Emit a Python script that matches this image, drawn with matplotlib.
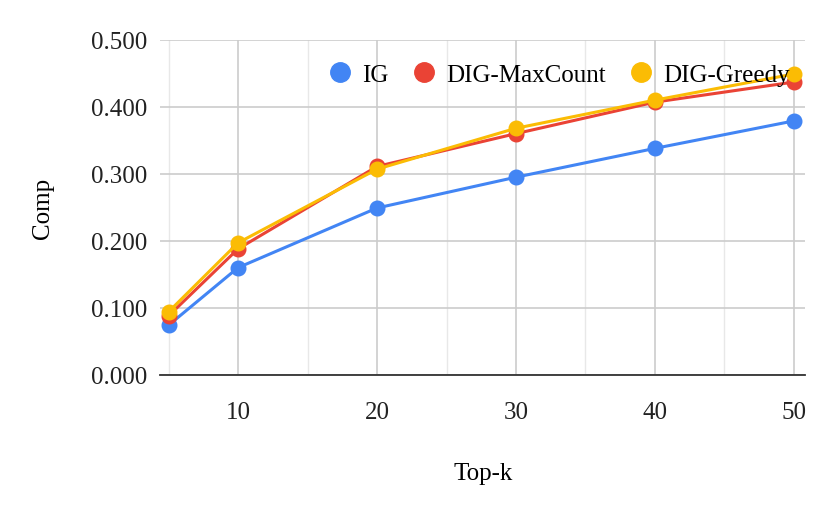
import matplotlib
matplotlib.use("Agg")
import matplotlib.pyplot as plt
from matplotlib.ticker import MultipleLocator, FormatStrFormatter

# data
top_k = [5, 10, 20, 30, 40, 50]
ig = [0.074, 0.160, 0.249, 0.295, 0.338, 0.379]
dig_maxcount = [0.088, 0.188, 0.311, 0.360, 0.407, 0.437]
dig_greedy = [0.094, 0.197, 0.307, 0.368, 0.410, 0.449]

series = [("IG", ig, "#4285F4"),
          ("DIG-MaxCount", dig_maxcount, "#EA4335"),
          ("DIG-Greedy", dig_greedy, "#FBBC04")]

plt.rcParams["font.family"] = ["Liberation Serif", "DejaVu Serif"]

fig = plt.figure(figsize=(8.3, 5.1), dpi=100)
ax = fig.add_axes([0.193, 0.263, 0.777, 0.657])

for name, vals, col in series:
    ax.plot(top_k, vals, color=col, lw=2.2, marker="o", markersize=10.5,
            label=name, zorder=3)

ax.set_xlim(4.4, 50.8)
ax.set_ylim(0, 0.5)
ax.xaxis.set_major_locator(MultipleLocator(10))
ax.xaxis.set_minor_locator(MultipleLocator(5))
ax.yaxis.set_major_locator(MultipleLocator(0.1))
ax.yaxis.set_major_formatter(FormatStrFormatter("%.3f"))

ax.grid(which="major", color="#cccccc", lw=1.2, zorder=0)
ax.grid(which="minor", axis="x", color="#e8e8e8", lw=1.0, zorder=0)
ax.set_axisbelow(True)

for s in ["top", "right", "left"]:
    ax.spines[s].set_visible(False)
ax.spines["bottom"].set_color("#333333")
ax.spines["bottom"].set_linewidth(1.3)
ax.tick_params(which="both", length=0, labelsize=18, colors="#222222")
ax.tick_params(axis="x", pad=19)
ax.tick_params(axis="y", pad=9)

ax.set_xlabel("Top-k", fontsize=18, labelpad=28)
ax.set_ylabel("Comp", fontsize=18, labelpad=27)

ax.legend(loc="upper right", bbox_to_anchor=(1.0, 0.975), ncol=3, frameon=False,
          fontsize=18, handlelength=0.8, handletextpad=0.5, columnspacing=1.0,
          borderaxespad=0.2)
# legend shows only the markers
for h in ax.get_legend().legend_handles:
    h.set_linestyle("None")
    h.set_markersize(14)

fig.savefig("out.png", dpi=100)
